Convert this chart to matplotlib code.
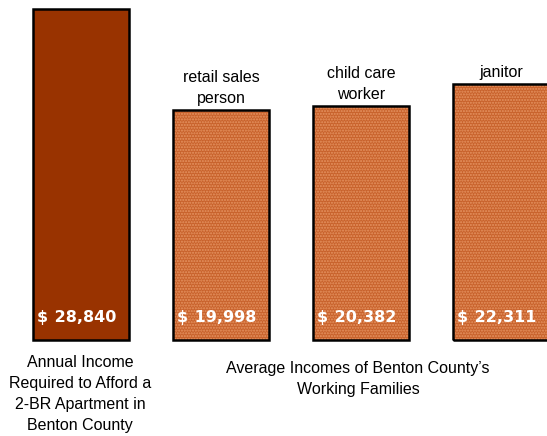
import matplotlib
matplotlib.use("Agg")
import matplotlib.pyplot as plt

plt.rcParams['font.family'] = ['Liberation Sans', 'DejaVu Sans']
plt.rcParams['hatch.linewidth'] = 1.0

categories = ["", "retail sales\nperson", "child care\nworker", "janitor"]
values = [28840, 19998, 20382, 22311]
value_labels = ["$\u2009\u200928,840", "$\u2009\u200919,998", "$\u2009\u200920,382", "$\u2009\u200922,311"]
colors = ["#993300", "#C8622C", "#C8622C", "#C8622C"]
textured = [False, True, True, True]
left_caption = "Annual Income\nRequired to Afford a\n2-BR Apartment in\nBenton County"
right_caption = "Average Incomes of Benton County\u2019s\nWorking Families"

fig = plt.figure(figsize=(5.47, 4.36), dpi=100)
ax = fig.add_axes([0, 0, 1, 1])
x = list(range(len(values)))
ax.bar(x, values, width=0.68, color=colors, edgecolor="none", linewidth=0)
for xi, v, t in zip(x, values, textured):
    if t:
        ax.bar(xi, v, width=0.68, facecolor="none", edgecolor="#E69462",
               hatch="......", linewidth=0)
ax.bar(x, values, width=0.68, facecolor="none", edgecolor="black", linewidth=1.8)
ax.set_xlim(-81 / 140, (547 - 81) / 140)
px = 1000 / 11.48
ax.set_ylim(-96 * px, 340 * px)
ax.axis("off")

for xi, v, cat, lab in zip(x, values, categories, value_labels):
    if cat:
        ax.annotate(cat, (xi, v), xytext=(0, 3), textcoords="offset points",
                    ha="center", va="bottom", fontsize=11.5, linespacing=1.5)
    ax.annotate(lab, (xi, 0), xytext=(-3, 11), textcoords="offset points",
                ha="center", va="bottom", fontsize=11.5, color="white",
                fontweight="bold", family=['DejaVu Sans'])

ax.text(80 / 547, 1 - 355 / 436, left_caption, transform=ax.transAxes,
        ha="center", va="top", fontsize=11.5, linespacing=1.5)
ax.text(358 / 547, 1 - 361 / 436, right_caption, transform=ax.transAxes,
        ha="center", va="top", fontsize=11.5, linespacing=1.5)

fig.savefig("out.png", dpi=100)
